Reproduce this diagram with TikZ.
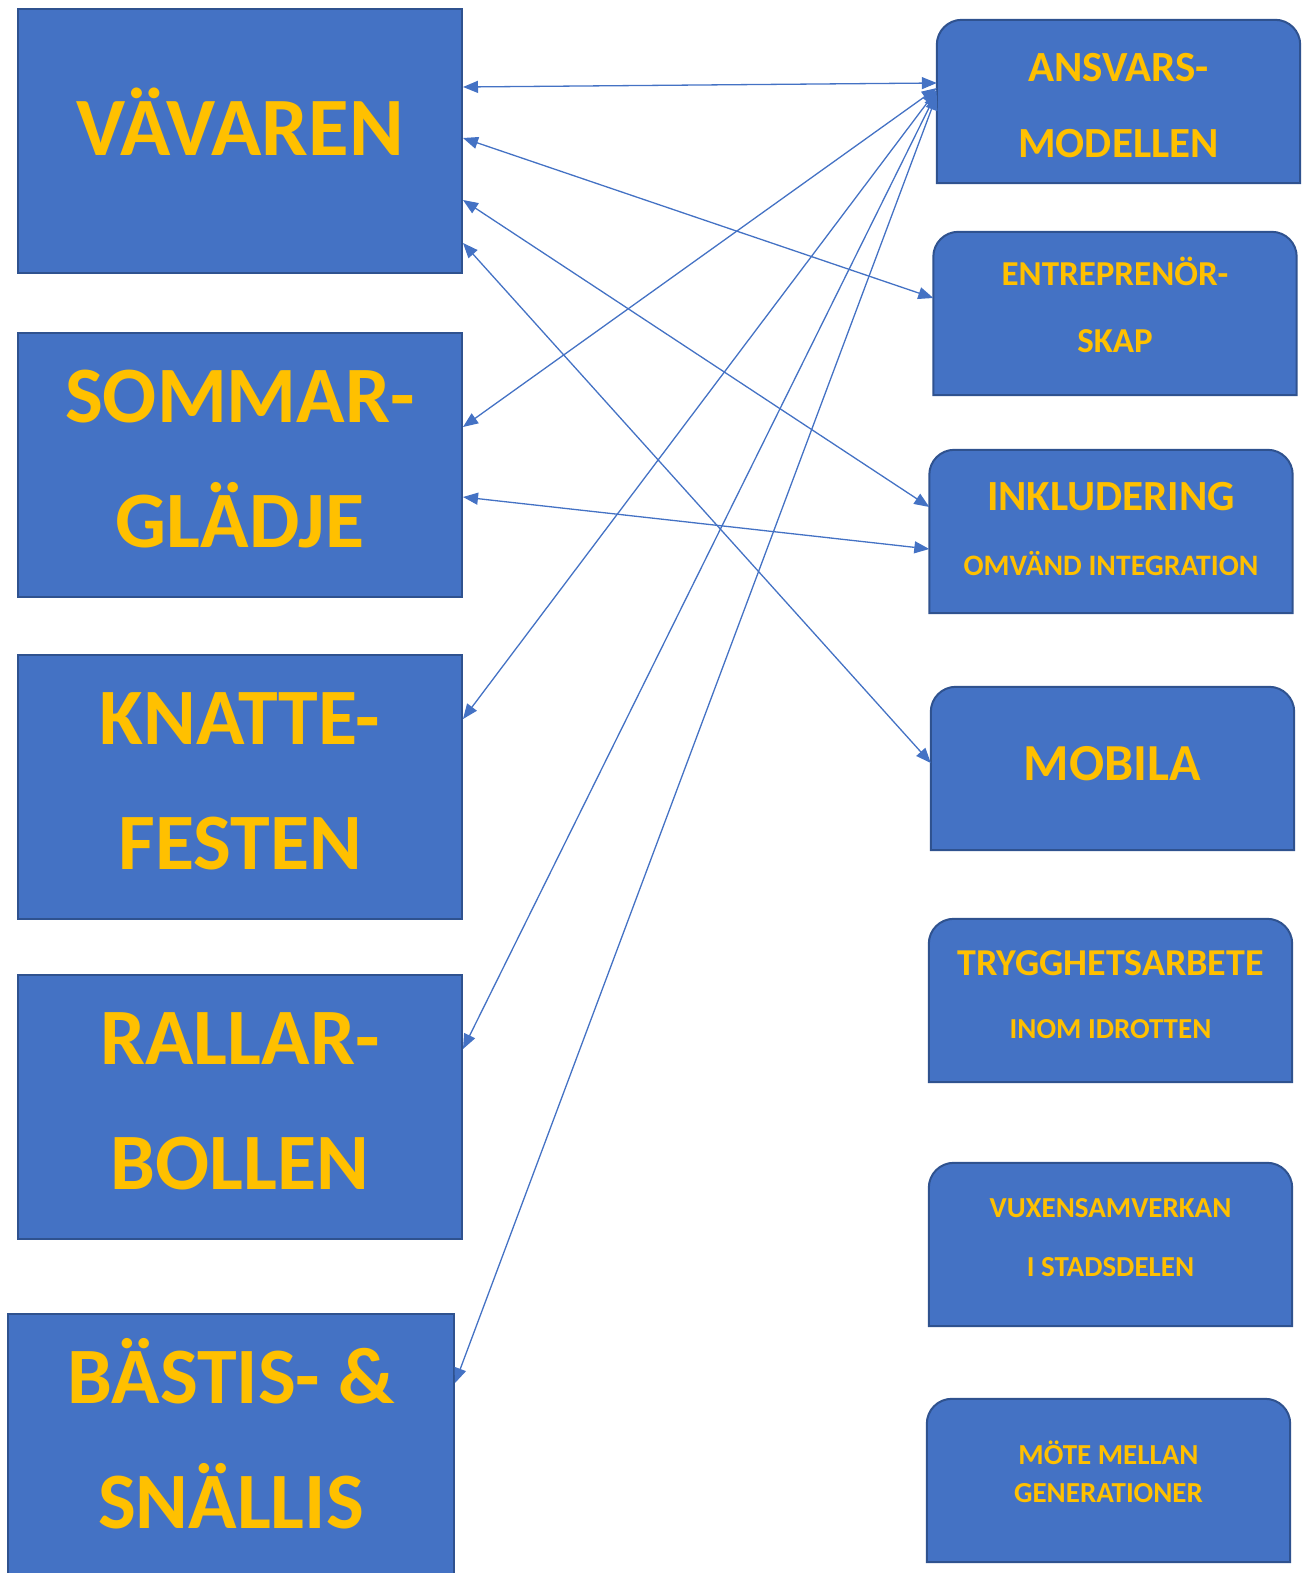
\documentclass[tikz,border=0pt]{standalone}
\usepackage{fontspec}
\setmainfont{Carlito}
\usetikzlibrary{arrows.meta,backgrounds}
\definecolor{boxblue}{HTML}{4472C4}
\definecolor{boxedge}{HTML}{2F528F}
\definecolor{boxtext}{HTML}{FFC000}
\def\tabshape#1{\draw[tabline] (#1.south west) -- ([yshift=-25pt]#1.north west) arc (180:90:25pt) -- ([xshift=-25pt]#1.north east) arc (90:0:25pt) -- (#1.south east) -- cycle;}

\begin{document}
\begin{tikzpicture}[x=1pt,y=-1pt,
	bigbox/.style={rectangle, fill=boxblue, draw=boxedge, line width=2pt, minimum width=444pt, minimum height=264pt, inner sep=0pt, align=center, text=boxtext, font=\bfseries\fontsize{80}{125}\selectfont, text height=164pt, text depth=0pt},
	tabbox/.style={rectangle, minimum width=363pt, minimum height=163pt, inner sep=0pt, align=center, text=boxtext, text depth=0pt},
	tabline/.style={fill=boxblue, draw=boxedge, line width=2pt},
	link/.style={boxblue, line width=1.3pt, {Triangle[length=15pt,width=12pt]}-{Triangle[length=15pt,width=12pt]}}]
			\useasboundingbox (0,0) rectangle (1309,1573);
			%%%%% LEFT %%%%%
			\node[bigbox, text height=29pt, font=\bfseries\fontsize{83}{125}\selectfont] (vavaren) at (240,141) {VÄVAREN};
			\node[bigbox] (sommar) at (240,465) {SOMMAR-\\GLÄDJE};
			\node[bigbox] (knatte) at (240,787) {KNATTE-\\FESTEN};
			\node[bigbox] (rallar) at (240,1107) {RALLAR-\\BOLLEN};
			\node[bigbox, minimum width=446pt] (bastis) at (231,1446) {BÄSTIS- \&\\SNÄLLIS};
			
			%%%%% RIGHT %%%%%
			\node[tabbox, font=\bfseries\fontsize{43}{76}\selectfont, text height=113pt] (ansvar) at (1118.5,101.5) {ANSVARS-\\MODELLEN};
			\node[tabbox, font=\bfseries\fontsize{35}{67}\selectfont, text height=77pt] (entre) at (1115,313.5) {ENTREPRENÖR-\\SKAP};
			\node[tabbox, font=\bfseries\fontsize{43}{65}\selectfont, text height=87pt] (inklud) at (1111,531.5) {INKLUDERING\\{\fontsize{29.7}{35}\selectfont OMVÄND INTEGRATION}};
			\node[tabbox, font=\bfseries\fontsize{52}{60}\selectfont, text height=23pt] (mobila) at (1112.5,768.5) {MOBILA};
			\node[tabbox, font=\bfseries\fontsize{38}{63}\selectfont, text height=75pt] (trygg) at (1110.5,1000.5) {TRYGGHETSARBETE\\{\fontsize{29}{35}\selectfont INOM IDROTTEN}};
			\node[tabbox, font=\bfseries\fontsize{29}{59}\selectfont, text height=63pt] (vuxen) at (1110.5,1244.5) {VUXENSAMVERKAN\\I STADSDELEN};
			\node[tabbox, font=\bfseries\fontsize{29}{38}\selectfont, text height=43pt] (mote) at (1108.5,1480.5) {MÖTE MELLAN\\GENERATIONER};
			
			\begin{scope}[on background layer]
				\tabshape{ansvar}
				\tabshape{entre}
				\tabshape{inklud}
				\tabshape{mobila}
				\tabshape{trygg}
				\tabshape{vuxen}
				\tabshape{mote}
			\end{scope}
			
			%%%%% ARROWS %%%%%
			\draw[link] ([yshift=54pt]vavaren.east) -- ([yshift=18.5pt]ansvar.west);
			\draw[link] ([yshift=3pt]vavaren.east) -- ([yshift=15.5pt]entre.west);
			\draw[link] ([yshift=-59pt]vavaren.east) -- ([yshift=24.5pt]inklud.west);
			\draw[link] ([yshift=-102pt]vavaren.east) -- ([yshift=5.5pt]mobila.west);
			\draw[link] ([yshift=38pt]sommar.east) -- ([yshift=13.5pt]ansvar.west);
			\draw[link] ([yshift=-32pt]sommar.east) -- ([yshift=-17.5pt]inklud.west);
			\draw[link] ([yshift=68pt]knatte.east) -- ([yshift=11.5pt]ansvar.west);
			\draw[link] ([yshift=58pt]rallar.east) -- ([yshift=9.5pt]ansvar.west);
			\draw[link] ([yshift=63pt]bastis.east) -- ([yshift=6.5pt]ansvar.west);
\end{tikzpicture}
\end{document}
